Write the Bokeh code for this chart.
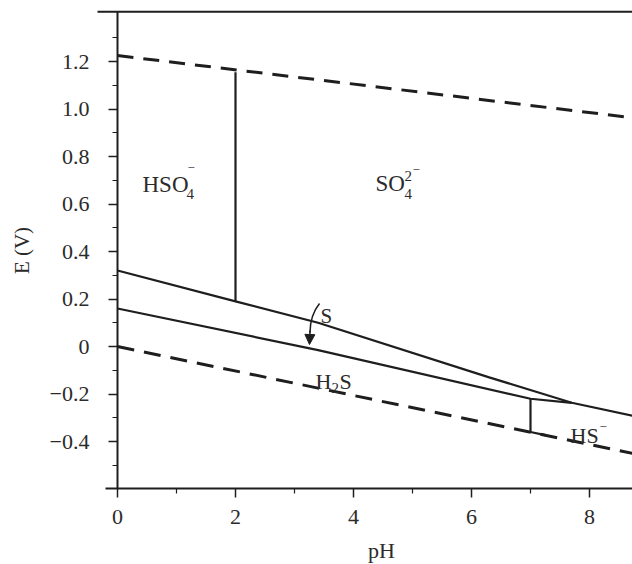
import numpy as np
from bokeh.plotting import figure
from bokeh.models import Range1d, FixedTicker, Label, Arrow, NormalHead
from bokeh.embed import file_html
from bokeh.resources import INLINE

# ---------------- data ----------------
x_ticks = [0, 2, 4, 6, 8]
x_minor = [1, 3, 5, 7]
x_tick_labels = ["0", "2", "4", "6", "8"]
y_ticks = [-0.4, -0.2, 0, 0.2, 0.4, 0.6, 0.8, 1.0, 1.2]
y_minor = [-0.5, -0.3, -0.1, 0.1, 0.3, 0.5, 0.7, 0.9, 1.1, 1.3]
y_tick_labels = ["\u22120.4", "\u22120.2", "0", "0.2", "0.4", "0.6", "0.8", "1.0", "1.2"]

# water stability limits (dashed)
o2_ph = [0.0, 8.73]
o2_e = [1.225, 0.963]
h2_ph = [0.0, 8.73]
h2_e = [0.0, -0.450]

# solid boundaries
upper_ph = [0.0, 2.0, 3.4, 6.3, 7.7, 8.73]
upper_e = [0.32, 0.19, 0.10, -0.13, -0.237, -0.292]
lower_ph = [0.0, 3.4, 7.0, 7.7]
lower_e = [0.16, -0.015, -0.22, -0.237]
hso4_ph = [2.0, 2.0]
hso4_e = [1.155, 0.19]
h2s_ph = [7.0, 7.0, 7.25]
h2s_e = [-0.22, -0.36, -0.373]

# ---------------- figure ----------------
INK = "#1e1e1e"
TXT = "#2b2b2b"
FONT = "Liberation Serif"

W, H = 632, 564
OX, OY = 117.0, 346.0          # pixel of pH 0 / E 0
SX, SY = 59.0, 237.5           # pixels per pH unit / per volt

X0, X1 = (0 - OX) / SX, (W - OX) / SX
Y0, Y1 = (OY - H) / SY, OY / SY
E_AXIS = (OY - 488) / SY       # level of the pH axis line

p = figure(width=W, height=H, x_range=Range1d(X0, X1), y_range=Range1d(Y0, Y1),
           output_backend="svg", toolbar_location=None, title=None,
           min_border_left=0, min_border_right=0, min_border_top=0, min_border_bottom=0)
p.outline_line_color = None
p.grid.visible = False
p.background_fill_color = "white"
p.border_fill_color = "white"

p.xaxis.ticker = FixedTicker(ticks=x_ticks, minor_ticks=x_minor)
p.xaxis.major_label_overrides = {t: l for t, l in zip(x_ticks, x_tick_labels)}
p.xaxis.fixed_location = E_AXIS
p.xaxis.bounds = (-0.2, X1)
p.yaxis.ticker = FixedTicker(ticks=y_ticks, minor_ticks=y_minor)
p.yaxis.major_label_overrides = {t: l for t, l in zip(y_ticks, y_tick_labels)}
p.yaxis.fixed_location = 0
p.yaxis.bounds = (E_AXIS, 1.41)

p.axis.axis_line_color = INK
p.axis.axis_line_width = 2
p.axis.major_tick_line_color = INK
p.axis.major_tick_line_width = 1.5
p.axis.minor_tick_line_color = INK
p.axis.minor_tick_line_width = 1.2
p.axis.major_tick_in = 0
p.axis.major_tick_out = 9
p.axis.minor_tick_in = 0
p.axis.minor_tick_out = 5
p.axis.major_label_text_font = FONT
p.axis.major_label_text_font_size = "22px"
p.axis.major_label_text_color = TXT
p.xaxis.major_label_standoff = 12
p.yaxis.major_label_standoff = 19

# top frame rule (starts a little left of the E axis)
p.line([(97 - OX) / SX, X1], [1.41, 1.41], line_color=INK, line_width=2)

# dashed lines
p.line(o2_ph, o2_e, line_color=INK, line_width=3, line_dash="16 10")
p.line(h2_ph, h2_e, line_color=INK, line_width=3, line_dash="17 10")

# solid boundaries
p.line(upper_ph, upper_e, line_color=INK, line_width=2.2)
p.line(lower_ph, lower_e, line_color=INK, line_width=2.2)
p.line(hso4_ph, hso4_e, line_color=INK, line_width=2.2)
p.line(h2s_ph, h2s_e, line_color=INK, line_width=2.2)

# ---------------- text helpers (pixel -> data) ----------------
def dph(px):
    return (px - OX) / SX

def dev(py):
    return (OY - py) / SY

def txt(s, px, py, size, align="left", baseline="alphabetic", angle=0.0):
    p.add_layout(Label(x=dph(px), y=dev(py), text=s, text_font=FONT,
                       text_font_size=f"{size}px", text_color=TXT,
                       text_align=align, text_baseline=baseline, angle=angle))

# region labels
txt("HSO", 142, 184, 23)
txt("4", 186, 193, 15)
txt("\u2212", 187, 167, 13)

txt("SO", 375, 183, 23)
txt("4", 404, 193, 15)
txt("2", 404, 175, 15)
txt("\u2212", 412, 169, 13)

txt("S", 320, 315, 21)

txt("H", 315, 381, 22)
txt("2", 331, 387, 15)
txt("S", 339, 381, 22)

txt("HS", 570, 435, 22)
txt("\u2212", 599, 426, 13)

# axis titles
txt("E (V)", 21, 250, 21, align="center", baseline="middle", angle=np.pi / 2)
txt("pH", 381, 550, 22, align="center")

# curved arrow from S into the thin S field
p.bezier(x0=[dph(319)], y0=[dev(303)], x1=[dph(309.5)], y1=[dev(332)],
         cx0=[dph(311)], cy0=[dev(313)], cx1=[dph(309.5)], cy1=[dev(322)],
         line_color=INK, line_width=1.5)
p.add_layout(Arrow(end=NormalHead(size=10, fill_color=INK, line_color=INK, line_width=1),
                   x_start=dph(309.5), y_start=dev(330), x_end=dph(309), y_end=dev(344),
                   line_color=INK, line_width=1.5))

open("out.html", "w").write(file_html(p, INLINE))
